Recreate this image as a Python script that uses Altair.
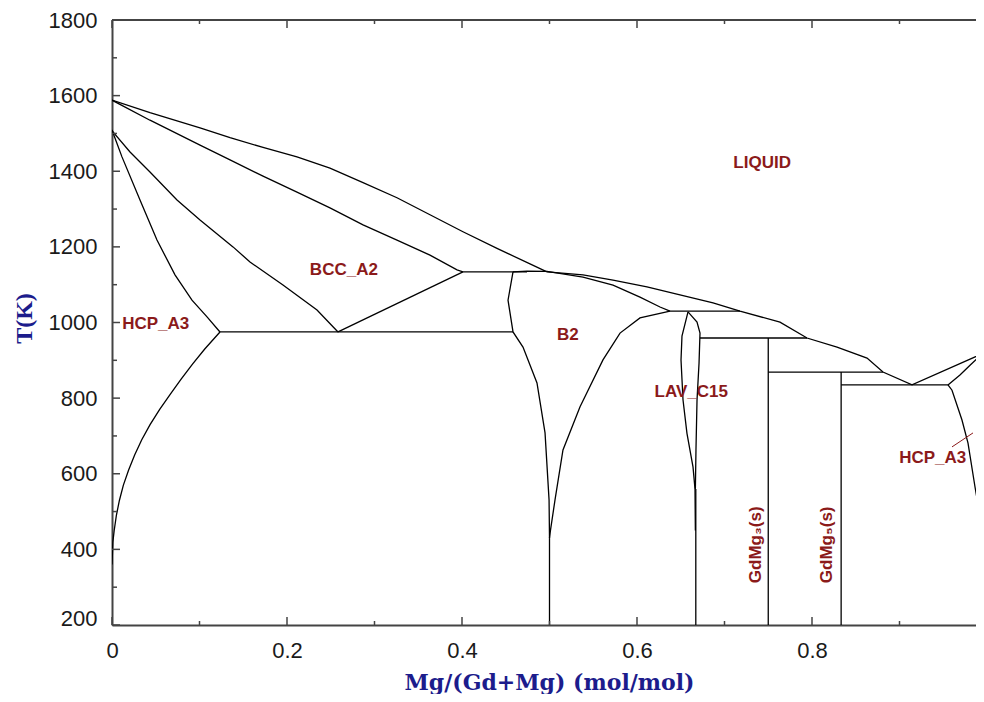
import altair as alt
import pandas as pd

# ---------------- phase-boundary curves (x = Mg mole fraction, T in K) ----------------
liquidus_gd_x = [0.0, 0.0434, 0.1006, 0.1349, 0.1726, 0.2114, 0.2491, 0.2869, 0.3257, 0.3634, 0.4011, 0.4400, 0.4777, 0.4971]
liquidus_gd_T = [1588, 1555, 1515, 1489, 1463, 1438, 1408, 1370, 1330, 1285, 1240, 1196, 1155, 1134]

solidus_bcc_x = [0.0, 0.0434, 0.1006, 0.1349, 0.1726, 0.2114, 0.2491, 0.2869, 0.3257, 0.3634, 0.3943, 0.4011]
solidus_bcc_T = [1588, 1535, 1469, 1430, 1387, 1345, 1303, 1258, 1218, 1178, 1139, 1134]

bcc_solvus_x = [0.0, 0.0011, 0.0206, 0.0434, 0.0743, 0.1006, 0.1383, 0.1577, 0.1954, 0.2343, 0.2583]
bcc_solvus_T = [1509, 1504, 1451, 1398, 1324, 1271, 1200, 1160, 1099, 1033, 975]

hcp_gd_upper_x = [0.0, 0.0114, 0.0320, 0.0514, 0.0720, 0.0914, 0.1086, 0.1234]
hcp_gd_upper_T = [1509, 1438, 1324, 1218, 1126, 1059, 1015, 975]

hcp_gd_solvus_x = [0.1234, 0.1060, 0.0920, 0.0790, 0.0665, 0.0545, 0.0435, 0.0340, 0.0260, 0.0190, 0.0130, 0.0085, 0.0050, 0.0025, 0.0010, 0.0]
hcp_gd_solvus_T = [975, 930, 890, 850, 810, 770, 730, 690, 650, 610, 570, 530, 490, 450, 420, 360]

eutectoid_x = [0.1234, 0.4583]
eutectoid_T = [975, 975]

bcc_b2_x = [0.2583, 0.4011]
bcc_b2_T = [975, 1134]

eutectic_1134_x = [0.4011, 0.4743]
eutectic_1134_T = [1134, 1134]

b2_left_x = [0.4583, 0.4526, 0.4583, 0.4697, 0.4857, 0.4949, 0.4995, 0.5]
b2_left_T = [1134, 1059, 975, 935, 840, 708, 531, 430]

b2_right_x = [0.6377, 0.6034, 0.5806, 0.5611, 0.5349, 0.5154, 0.5063, 0.5011, 0.5]
b2_right_T = [1030, 1012, 972, 901, 777, 663, 531, 450, 430]

b2_top_x = [0.4583, 0.4743, 0.4971, 0.5383, 0.5726, 0.6034, 0.6263, 0.6377]
b2_top_T = [1134, 1136, 1135, 1120, 1099, 1067, 1041, 1030]

liquidus_mg_x = [0.4971, 0.5383, 0.5726, 0.6114, 0.6491, 0.6869, 0.7177, 0.7634, 0.7943, 0.8286, 0.8629, 0.8811, 0.9143, 1.0]
liquidus_mg_T = [1134, 1126, 1112, 1094, 1073, 1052, 1030, 1001, 959, 935, 906, 869, 835, 923]

gdmg_x = [0.5, 0.5]
gdmg_T = [430, 200]

peritectic_1030_x = [0.6377, 0.7177]
peritectic_1030_T = [1030, 1030]

c15_left_x = [0.6583, 0.6514, 0.6503, 0.6526, 0.6571, 0.6640, 0.6663, 0.6667]
c15_left_T = [1028, 964, 901, 795, 707, 618, 560, 450]

c15_right_x = [0.6583, 0.6686, 0.6720, 0.6709, 0.6686, 0.6674, 0.6667]
c15_right_T = [1028, 1001, 972, 893, 795, 663, 560]

gdmg2_x = [0.6672, 0.6672]
gdmg2_T = [560, 200]

peritectic_959_x = [0.6720, 0.7943]
peritectic_959_T = [959, 959]

gdmg3_x = [0.75, 0.75]
gdmg3_T = [959, 200]

peritectic_869_x = [0.75, 0.8811]
peritectic_869_T = [869, 869]

gdmg5_x = [0.8333, 0.8333]
gdmg5_T = [869, 200]

eutectic_835_x = [0.8333, 0.9554]
eutectic_835_T = [835, 835]

hcp_mg_solidus_x = [0.9554, 0.9691, 0.9806, 0.9954, 1.0]
hcp_mg_solidus_T = [835, 861, 887, 919, 923]

hcp_mg_solvus_x = [0.9554, 0.9600, 0.9714, 0.9783, 0.9863, 0.9954, 1.0]
hcp_mg_solvus_T = [835, 821, 742, 681, 565, 443, 330]

leader_x = [0.960, 0.984]
leader_T = [671, 708]

# ---------------- phase labels ----------------
label_text = ["LIQUID", "BCC_A2", "HCP_A3", "B2", "LAV_C15", "HCP_A3", "GdMg\u2083(s)", "GdMg\u2085(s)"]
label_x = [0.743, 0.265, 0.050, 0.521, 0.662, 0.938, 0.736, 0.817]
label_T = [1423, 1139, 996, 967, 816, 642, 412, 412]
label_angle = [0, 0, 0, 0, 0, 0, 270, 270]

# ---------------- axis ticks ----------------
x_label_values = [0, 0.2, 0.4, 0.6, 0.8]
x_major_ticks = [0, 0.2, 0.4, 0.6, 0.8]
x_minor_ticks = [0.1, 0.3, 0.5, 0.7, 0.9]
y_major_ticks = [200, 400, 600, 800, 1000, 1200, 1400, 1600, 1800]
y_minor_ticks = [300, 500, 700, 900, 1100, 1300, 1500, 1700]

curves = {
    "liquidus_gd": (liquidus_gd_x, liquidus_gd_T),
    "solidus_bcc": (solidus_bcc_x, solidus_bcc_T),
    "bcc_solvus": (bcc_solvus_x, bcc_solvus_T),
    "hcp_gd_upper": (hcp_gd_upper_x, hcp_gd_upper_T),
    "hcp_gd_solvus": (hcp_gd_solvus_x, hcp_gd_solvus_T),
    "eutectoid": (eutectoid_x, eutectoid_T),
    "bcc_b2": (bcc_b2_x, bcc_b2_T),
    "eutectic_1134": (eutectic_1134_x, eutectic_1134_T),
    "b2_left": (b2_left_x, b2_left_T),
    "b2_right": (b2_right_x, b2_right_T),
    "b2_top": (b2_top_x, b2_top_T),
    "liquidus_mg": (liquidus_mg_x, liquidus_mg_T),
    "gdmg": (gdmg_x, gdmg_T),
    "peritectic_1030": (peritectic_1030_x, peritectic_1030_T),
    "c15_left": (c15_left_x, c15_left_T),
    "c15_right": (c15_right_x, c15_right_T),
    "gdmg2": (gdmg2_x, gdmg2_T),
    "peritectic_959": (peritectic_959_x, peritectic_959_T),
    "gdmg3": (gdmg3_x, gdmg3_T),
    "peritectic_869": (peritectic_869_x, peritectic_869_T),
    "gdmg5": (gdmg5_x, gdmg5_T),
    "eutectic_835": (eutectic_835_x, eutectic_835_T),
    "hcp_mg_solidus": (hcp_mg_solidus_x, hcp_mg_solidus_T),
    "hcp_mg_solvus": (hcp_mg_solvus_x, hcp_mg_solvus_T),
}

rows = []
for name, (xs, ts) in curves.items():
    for i, (xv, tv) in enumerate(zip(xs, ts)):
        rows.append({"curve": name, "order": i, "x": xv, "T": tv})
lines_df = pd.DataFrame(rows)

leader_df = pd.DataFrame({"x": leader_x, "T": leader_T, "order": list(range(len(leader_x)))})
labels_df = pd.DataFrame({"label": label_text, "x": label_x, "T": label_T, "angle": label_angle})

W, H = 864, 605
XR = 875  # pixel position of x = 1 (right frame, just outside the window)

FRAME = "#444444"
RED = "#8b1a1a"
NAVY = "#1c1c8c"

xscale = alt.Scale(domain=[0, W / XR], nice=False, zero=False)
yscale = alt.Scale(domain=[200, 1800], nice=False, zero=False)

xaxis = alt.Axis(
    values=x_label_values, format="~g", grid=False, ticks=False, tickSize=0,
    domain=True, domainColor=FRAME, domainWidth=2,
    labelFont="Liberation Sans", labelFontSize=22, labelColor="#1a1a1a",
    labelPadding=15, labelFlush=False, labelOverlap=False,
    title="Mg/(Gd+Mg) (mol/mol)", titleFont="DejaVu Serif", titleFontSize=22,
    titleFontWeight="bold", titleColor=NAVY, titleX=437, titleY=64,
    titleBaseline="alphabetic", titleAlign="center",
)
yaxis = alt.Axis(
    values=y_major_ticks, format="d", grid=False, ticks=False, tickSize=0,
    domain=True, domainColor=FRAME, domainWidth=2,
    labelFont="Liberation Sans", labelFontSize=22, labelColor="#1a1a1a",
    labelPadding=15, labelFlush=False, labelOverlap=False,
    labelBaseline={"condition": {"test": "datum.value == 200", "value": "alphabetic"}, "value": "middle"},
    title="T(K)", titleFont="Liberation Serif", titleFontSize=24,
    titleFontWeight="bold", titleColor=NAVY, titleAngle=270,
    titleX=-81, titleY=298, titleBaseline="alphabetic", titleAlign="center",
)

X = alt.X("x:Q", scale=xscale, axis=xaxis)
Y = alt.Y("T:Q", scale=yscale, axis=yaxis)

lines = alt.Chart(lines_df).mark_line(color="black", strokeWidth=1.3, clip=True).encode(
    x=X, y=Y, detail="curve:N", order="order:Q"
)

leader = alt.Chart(leader_df).mark_line(color=RED, strokeWidth=1, clip=True).encode(
    x=X, y=Y, order="order:Q"
)

labels_h = alt.Chart(labels_df).transform_filter("datum.angle == 0").mark_text(
    font="Liberation Sans", fontSize=17, fontWeight="bold", color=RED,
    align="center", baseline="middle"
).encode(x=X, y=Y, text="label:N")

labels_v = alt.Chart(labels_df).transform_filter("datum.angle != 0").mark_text(
    font="Liberation Sans", fontSize=17, fontWeight="bold", color=RED,
    align="center", baseline="middle", angle=270
).encode(x=X, y=Y, text="label:N")

xmaj = pd.DataFrame({"x": x_major_ticks})
xmin = pd.DataFrame({"x": x_minor_ticks})
ymaj = pd.DataFrame({"T": y_major_ticks})
ymin = pd.DataFrame({"T": y_minor_ticks})

tick_style = dict(color=FRAME, strokeWidth=1.5)
ticks = [
    alt.Chart(xmaj).mark_rule(**tick_style).encode(x=X, y=alt.value(H), y2=alt.value(H - 8)),
    alt.Chart(xmin).mark_rule(**tick_style).encode(x=X, y=alt.value(H), y2=alt.value(H - 4)),
    alt.Chart(xmaj).mark_rule(**tick_style).encode(x=X, y=alt.value(0), y2=alt.value(8)),
    alt.Chart(xmin).mark_rule(**tick_style).encode(x=X, y=alt.value(0), y2=alt.value(4)),
    alt.Chart(ymaj).mark_rule(**tick_style).encode(y=Y, x=alt.value(0), x2=alt.value(8)),
    alt.Chart(ymin).mark_rule(**tick_style).encode(y=Y, x=alt.value(0), x2=alt.value(5)),
    alt.Chart(ymaj).mark_rule(**tick_style).encode(y=Y, x=alt.value(XR), x2=alt.value(XR - 8)),
    alt.Chart(ymin).mark_rule(**tick_style).encode(y=Y, x=alt.value(XR), x2=alt.value(XR - 5)),
]

top_frame = alt.Chart(pd.DataFrame({"a": [0]})).mark_rule(color=FRAME, strokeWidth=2).encode(
    x=alt.value(0), x2=alt.value(XR), y=alt.value(0)
)

chart = alt.layer(lines, leader, labels_h, labels_v, *ticks, top_frame).properties(
    width=W, height=H,
    autosize=alt.AutoSizeParams(type="none"),
    padding={"left": 104, "top": 12, "right": 0, "bottom": 69},
    background="white",
).configure_view(strokeWidth=0)

chart.save("out.html", embed_options={"renderer": "svg", "actions": False})
